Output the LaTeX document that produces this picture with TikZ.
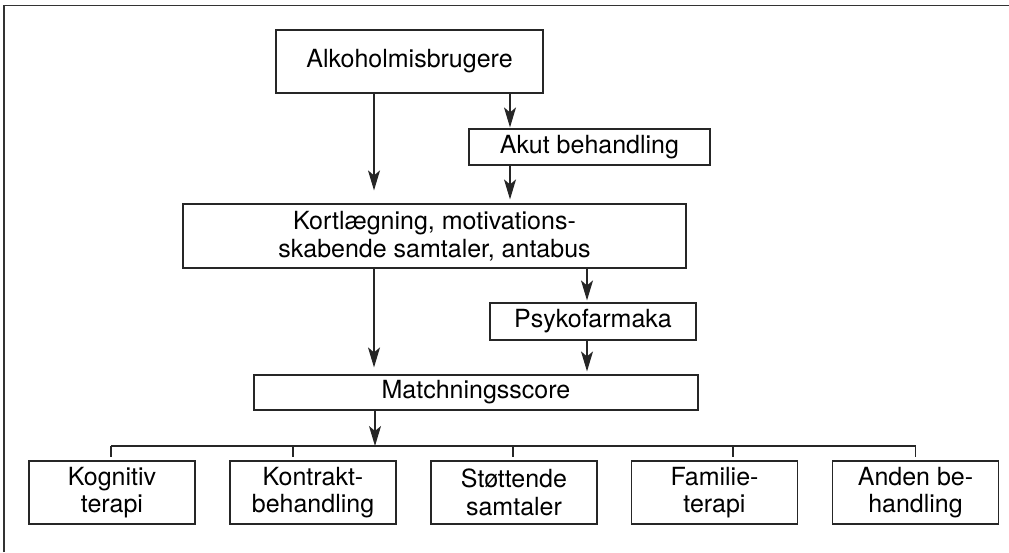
\documentclass[tikz,border=0pt]{standalone}
\usepackage{fontspec}
\setmainfont{TeX Gyre Heros}
\usepackage{tikz}
\usetikzlibrary{arrows.meta, positioning}

\tikzset{
  box/.style={draw=black!85, line width=1.2pt, align=center, inner sep=2pt,
    font=\fontsize{25}{27.5}\selectfont},
  arr/.style={draw=black!85, line width=1.2pt,
    -{Stealth[length=20pt, width=12pt, inset=5pt]}},
  link/.style={draw=black!85, line width=1.2pt}
}

\begin{document}
\begin{tikzpicture}[x=1pt, y=-1pt]
    \useasboundingbox (0,0) rectangle (1009,552);
    % Frame (top and left edge only)
    \draw[line width=1.8pt, black!80] (4,552) -- (4,5.5) -- (1009,5.5);

    % Upper chain
    \node[box, minimum width=267pt, minimum height=63pt] (alk) at (409.5,61.5) {Alkoholmisbrugere};
    \node[box, minimum width=241pt, minimum height=36pt] (akut) at (589.5,147) {Akut behandling};
    \node[box, minimum width=503pt, minimum height=64pt] (kort) at (434.5,236) {Kortlægning, motivations-\\skabende samtaler, antabus};
    \node[box, minimum width=206pt, minimum height=37pt] (psyko) at (593,321.5) {Psykofarmaka};
    \node[box, minimum width=444pt, minimum height=35pt] (match) at (476,392.5) {Matchningsscore};

    % Columns for the arrows
    \coordinate (colL) at (374,0);
    \coordinate (colR) at (510,0);
    \coordinate (colP) at (587,0);
    \coordinate (colM) at (375,0);
    \coordinate (bus) at (0,446);

    \draw[arr, shorten >=13pt] (alk.south -| colL) -- (kort.north -| colL);
    \draw[arr, shorten >=1pt] (alk.south -| colR) -- (akut.north -| colR);
    \draw[arr, shorten >=4pt] (akut.south -| colR) -- (kort.north -| colR);
    \draw[arr, shorten >=7pt] (kort.south -| colL) -- (match.north -| colL);
    \draw[arr, shorten >=2pt] (kort.south -| colP) -- (psyko.north -| colP);
    \draw[arr, shorten >=3pt] (psyko.south -| colP) -- (match.north -| colP);

    % Treatment options
    \node[box, minimum width=166pt, minimum height=63pt] (kog) at (112,492.5) {Kognitiv\\terapi};
    \node[box, minimum width=166pt, minimum height=63pt] (kon) at (313,492.5) {Kontrakt-\\behandling};
    \node[box, minimum width=166pt, minimum height=63pt] (sto) at (514,492.5) {Støttende\\samtaler};
    \node[box, minimum width=166pt, minimum height=63pt] (fam) at (714.5,492.5) {Familie-\\terapi};
    \node[box, minimum width=166pt, minimum height=63pt] (and) at (915.5,492.5) {Anden be-\\handling};

    \draw[arr] (match.south -| colM) -- (bus -| colM);
    \draw[link] ([xshift=-1pt]kog.north |- bus) -- (and.north |- bus);
    \foreach \b/\dx in {kog/-1, kon/-20, sto/-1, fam/18.5, and/0}
      \draw[link] ([xshift=\dx pt]\b.north |- bus) -- ++(0,11);
\end{tikzpicture}
\end{document}
